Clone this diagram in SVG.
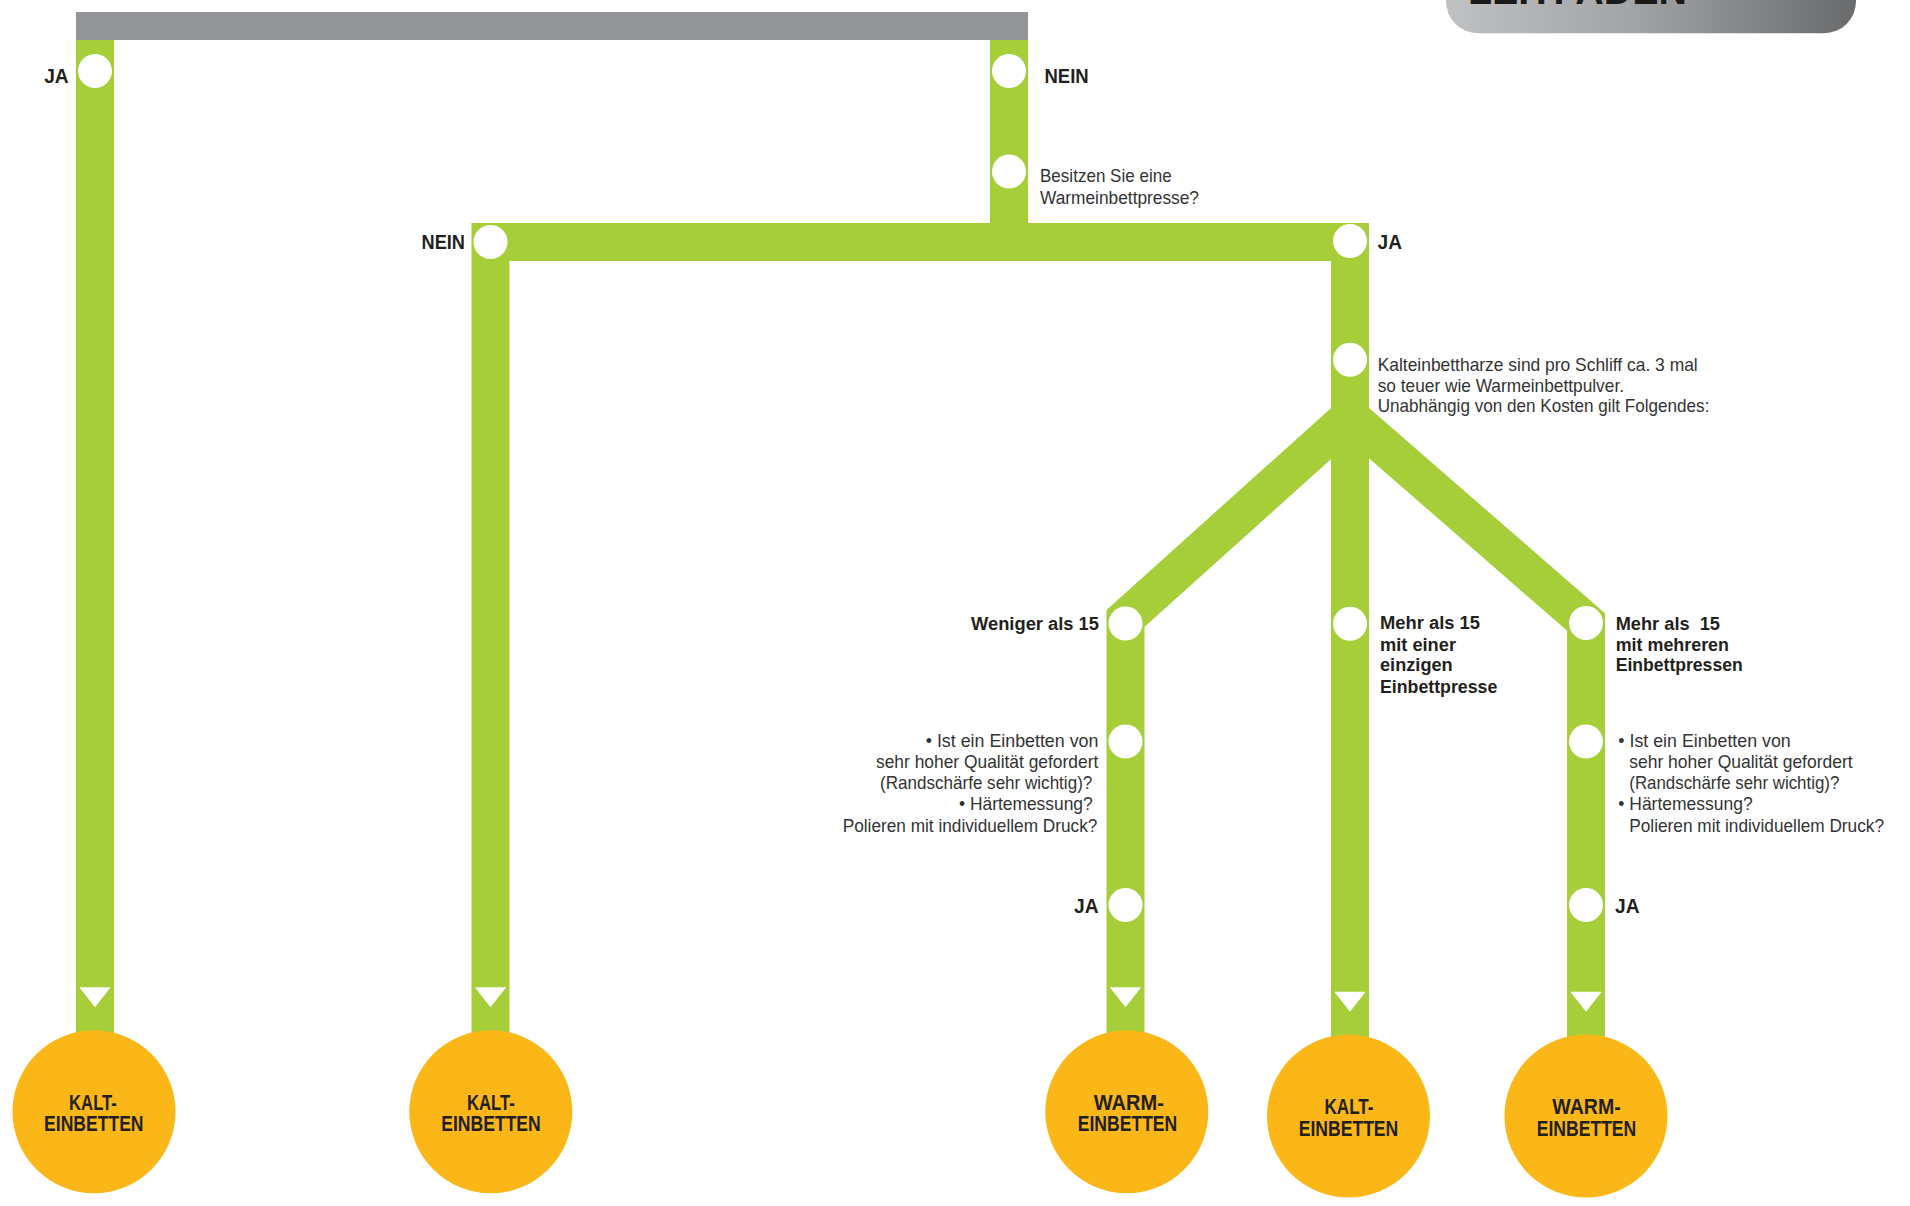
<svg xmlns="http://www.w3.org/2000/svg" width="1910" height="1206" viewBox="0 0 1910 1206">
<defs>
<linearGradient id="hdr" x1="0" y1="0" x2="1" y2="0">
<stop offset="0" stop-color="#bfc1c3"/>
<stop offset="0.45" stop-color="#a2a4a6"/>
<stop offset="1" stop-color="#686a6b"/>
</linearGradient>
<style>
.line{fill:none;stroke:#a6ce39;stroke-width:38;stroke-linejoin:miter;stroke-linecap:butt}
.dot{fill:#ffffff}
.tri{fill:#ffffff}
.end{fill:#fbb617}
.body{font-family:"Liberation Sans Narrow","Liberation Sans",Arial,sans-serif;font-size:18.5px;fill:#333333}
.lbl{font-family:"Liberation Sans Narrow","Liberation Sans",Arial,sans-serif;font-size:18px;font-weight:bold;fill:#231f20}
.big{font-family:"Liberation Sans Narrow","Liberation Sans",Arial,sans-serif;font-size:20.5px;font-weight:bold;fill:#231f20}
.res{font-family:"Liberation Sans Narrow","Liberation Sans",Arial,sans-serif;font-size:21.5px;font-weight:bold;fill:#231f20;text-anchor:middle}
</style>
</defs>
<rect width="1910" height="1206" fill="#ffffff"/>
<g id="header">
<rect x="1446" y="-40" width="410" height="73.3" rx="32" fill="url(#hdr)"/>
<text x="1468" y="4" font-family="Liberation Sans, Arial, sans-serif" font-size="40" font-weight="bold" fill="#1a1a1a" textLength="219" lengthAdjust="spacingAndGlyphs">LEITFADEN</text>
</g>
<g id="top-bar">
<rect x="76" y="12" width="952" height="28" fill="#939598"/>
</g>
<g id="connectors">
<path class="line" d="M95,40 V1100"/>
<path class="line" d="M1009,40 V242"/>
<path class="line" d="M490.5,1100 V242 H1350 V300"/>
<path class="line" d="M1350,242 V1100"/>
<path class="line" d="M1350,300 V416.5 L1125.5,618.5 V1100"/>
<path class="line" d="M1350,300 V416.5 L1586,622 V1100"/>
<polygon class="tri" points="79.3,987.3 110.7,987.3 95,1007.3"/>
<polygon class="tri" points="474.8,987.3 506.2,987.3 490.5,1007.3"/>
<polygon class="tri" points="1109.8,987.3 1141.2,987.3 1125.5,1007.3"/>
<polygon class="tri" points="1334.3,991.7 1365.7,991.7 1350,1011.7"/>
<polygon class="tri" points="1570.3,991.7 1601.7,991.7 1586,1011.7"/>
</g>
<g id="q-start-ja">
<circle class="dot" cx="95" cy="71" r="17"/>
<text class="big" x="44.2" y="83.3" textLength="24.5" lengthAdjust="spacingAndGlyphs">JA</text>
</g>
<g id="q-start-nein">
<circle class="dot" cx="1009" cy="71" r="17"/>
<text class="big" x="1044.5" y="83.3" textLength="44.2" lengthAdjust="spacingAndGlyphs">NEIN</text>
</g>
<g id="q-warmpresse">
<circle class="dot" cx="1009" cy="171.5" r="17"/>
<text class="body" x="1040" y="182.3" textLength="131.7" lengthAdjust="spacingAndGlyphs">Besitzen Sie eine</text>
<text class="body" x="1040" y="204.3" textLength="159" lengthAdjust="spacingAndGlyphs">Warmeinbettpresse?</text>
</g>
<g id="warmpresse-nein">
<circle class="dot" cx="490.5" cy="242" r="17"/>
<text class="big" x="421.6" y="249.3" textLength="43.4" lengthAdjust="spacingAndGlyphs">NEIN</text>
</g>
<g id="warmpresse-ja">
<circle class="dot" cx="1350" cy="241" r="17"/>
<text class="big" x="1377.6" y="249.3" textLength="24.4" lengthAdjust="spacingAndGlyphs">JA</text>
</g>
<g id="q-kosten">
<circle class="dot" cx="1350" cy="359.7" r="17"/>
<text class="body" x="1377.7" y="370.7" textLength="320" lengthAdjust="spacingAndGlyphs">Kalteinbettharze sind pro Schliff ca. 3 mal</text>
<text class="body" x="1377.7" y="391.5" textLength="246.3" lengthAdjust="spacingAndGlyphs">so teuer wie Warmeinbettpulver.</text>
<text class="body" x="1377.7" y="412.3" textLength="331.7" lengthAdjust="spacingAndGlyphs">Unabhängig von den Kosten gilt Folgendes:</text>
</g>
<g id="weniger-15">
<circle class="dot" cx="1125.5" cy="623.5" r="17"/>
<text class="lbl" x="971" y="630" textLength="128" lengthAdjust="spacingAndGlyphs">Weniger als 15</text>
</g>
<g id="q-qualitaet-links">
<circle class="dot" cx="1125.5" cy="741.5" r="17"/>
<text class="body" x="925.7" y="746.7" textLength="172.7" lengthAdjust="spacingAndGlyphs">• Ist ein Einbetten von</text>
<text class="body" x="876" y="768.2" textLength="222.3" lengthAdjust="spacingAndGlyphs">sehr hoher Qualität gefordert</text>
<text class="body" x="880" y="789.3" textLength="212.3" lengthAdjust="spacingAndGlyphs">(Randschärfe sehr wichtig)?</text>
<text class="body" x="959" y="810.3" textLength="133.7" lengthAdjust="spacingAndGlyphs">• Härtemessung?</text>
<text class="body" x="842.7" y="831.7" textLength="254.7" lengthAdjust="spacingAndGlyphs">Polieren mit individuellem Druck?</text>
</g>
<g id="ja-links">
<circle class="dot" cx="1125.5" cy="905" r="17"/>
<text class="big" x="1074" y="912.5" textLength="24.5" lengthAdjust="spacingAndGlyphs">JA</text>
</g>
<g id="mehr-15-einzeln">
<circle class="dot" cx="1350" cy="623.7" r="17"/>
<text class="lbl" x="1380" y="629.3" textLength="100" lengthAdjust="spacingAndGlyphs">Mehr als 15</text>
<text class="lbl" x="1380" y="650.5" textLength="76" lengthAdjust="spacingAndGlyphs">mit einer</text>
<text class="lbl" x="1380" y="671" textLength="72.7" lengthAdjust="spacingAndGlyphs">einzigen</text>
<text class="lbl" x="1380" y="692.5" textLength="117.3" lengthAdjust="spacingAndGlyphs">Einbettpresse</text>
</g>
<g id="mehr-15-mehrere">
<circle class="dot" cx="1586" cy="623" r="17"/>
<text class="lbl" x="1615.7" y="630" textLength="104.3" lengthAdjust="spacingAndGlyphs" xml:space="preserve">Mehr als  15</text>
<text class="lbl" x="1615.7" y="650.7" textLength="113.3" lengthAdjust="spacingAndGlyphs">mit mehreren</text>
<text class="lbl" x="1615.7" y="671" textLength="127" lengthAdjust="spacingAndGlyphs">Einbettpressen</text>
</g>
<g id="q-qualitaet-rechts">
<circle class="dot" cx="1586" cy="741.5" r="17"/>
<text class="body" x="1618.3" y="746.7" textLength="172.4" lengthAdjust="spacingAndGlyphs">• Ist ein Einbetten von</text>
<text class="body" x="1629.3" y="768.2" textLength="223.3" lengthAdjust="spacingAndGlyphs">sehr hoher Qualität gefordert</text>
<text class="body" x="1629.3" y="789.3" textLength="210" lengthAdjust="spacingAndGlyphs">(Randschärfe sehr wichtig)?</text>
<text class="body" x="1618.3" y="810.3" textLength="134.4" lengthAdjust="spacingAndGlyphs">• Härtemessung?</text>
<text class="body" x="1629.3" y="831.7" textLength="254.7" lengthAdjust="spacingAndGlyphs">Polieren mit individuellem Druck?</text>
</g>
<g id="ja-rechts">
<circle class="dot" cx="1586" cy="905" r="17"/>
<text class="big" x="1615" y="912.5" textLength="24.5" lengthAdjust="spacingAndGlyphs">JA</text>
</g>
<g id="result-kalt-1">
<circle class="end" cx="94" cy="1111.7" r="81.5"/>
<text class="res" x="93" y="1110" textLength="47.8" lengthAdjust="spacingAndGlyphs">KALT-</text>
<text class="res" x="93.8" y="1131" textLength="99.5" lengthAdjust="spacingAndGlyphs">EINBETTEN</text>
</g>
<g id="result-kalt-2">
<circle class="end" cx="490.8" cy="1111.7" r="81.5"/>
<text class="res" x="490.8" y="1110" textLength="47.8" lengthAdjust="spacingAndGlyphs">KALT-</text>
<text class="res" x="491" y="1131" textLength="99.5" lengthAdjust="spacingAndGlyphs">EINBETTEN</text>
</g>
<g id="result-warm-1">
<circle class="end" cx="1126.8" cy="1111.7" r="81.5"/>
<text class="res" x="1128.8" y="1110" textLength="70" lengthAdjust="spacingAndGlyphs">WARM-</text>
<text class="res" x="1127.5" y="1131" textLength="99.5" lengthAdjust="spacingAndGlyphs">EINBETTEN</text>
</g>
<g id="result-kalt-3">
<circle class="end" cx="1348.5" cy="1116" r="81.5"/>
<text class="res" x="1349" y="1114" textLength="49" lengthAdjust="spacingAndGlyphs">KALT-</text>
<text class="res" x="1348.5" y="1135.7" textLength="99.5" lengthAdjust="spacingAndGlyphs">EINBETTEN</text>
</g>
<g id="result-warm-2">
<circle class="end" cx="1586" cy="1116" r="81.5"/>
<text class="res" x="1586.5" y="1114" textLength="68.3" lengthAdjust="spacingAndGlyphs">WARM-</text>
<text class="res" x="1586.5" y="1135.7" textLength="99.5" lengthAdjust="spacingAndGlyphs">EINBETTEN</text>
</g>
</svg>
